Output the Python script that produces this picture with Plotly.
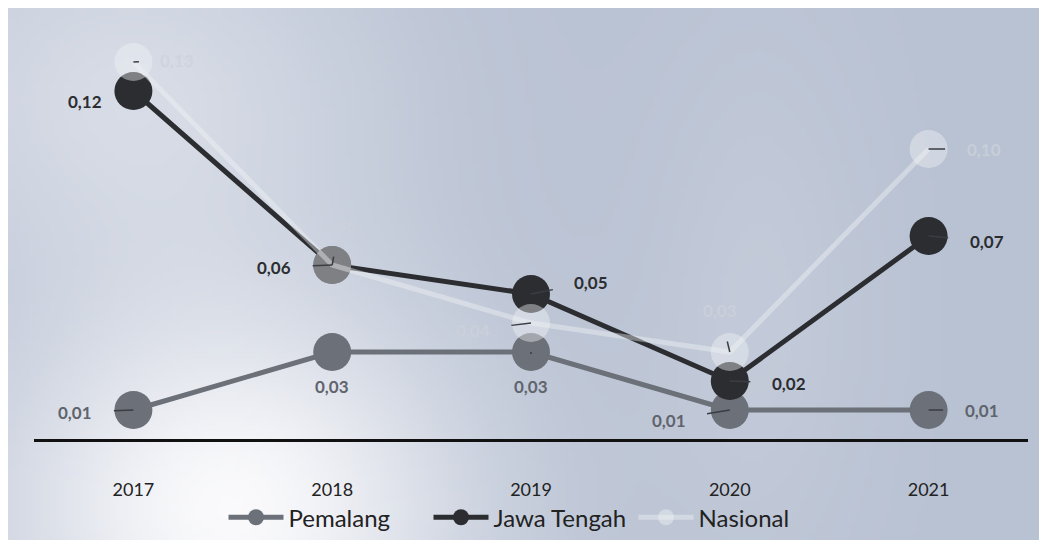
import base64
import struct
import zlib

import numpy as np
import plotly.graph_objects as go

# data
years = ["2017", "2018", "2019", "2020", "2021"]
pemalang = [0.01, 0.03, 0.03, 0.01, 0.01]
jawa_tengah = [0.12, 0.06, 0.05, 0.02, 0.07]
nasional = [0.13, 0.06, 0.04, 0.03, 0.10]

# the page body adds 8px around the figure
W, H = 1031, 532
ML, MR, MT, MB = 26, 11, 25, 101
PW, PH = W - ML - MR, H - MT - MB


def fmt(v):
    return f"{v:.2f}".replace(".", ",")


def png_uri(rgb):
    # tiny PNG encoder so the scan-like background can be an image
    h, w, _ = rgb.shape
    raw = b"".join(b"\x00" + rgb[i].tobytes() for i in range(h))

    def chunk(tag, data):
        c = struct.pack(">I", len(data)) + tag + data
        return c + struct.pack(">I", zlib.crc32(tag + data) & 0xffffffff)

    png = b"\x89PNG\r\n\x1a\n" + chunk(b"IHDR", struct.pack(">IIBBBBB", w, h, 8, 2, 0, 0, 0))
    png += chunk(b"IDAT", zlib.compress(raw, 9)) + chunk(b"IEND", b"")
    return "data:image/png;base64," + base64.b64encode(png).decode()


# bluish background with a white glow at lower left
gw, gh = 210, 110
yy, xx = np.mgrid[0:gh, 0:gw]
px, py = xx * W / gw, yy * H / gh
glow = np.exp(-(((px - 220) / 260) ** 2 + ((py - 500) / 230) ** 2) * 1.2)
glow2 = 0.45 * np.exp(-(((px - 120) / 260) ** 2 + ((py - 80) / 200) ** 2))
glow3 = 0.15 * np.exp(-(((px - 750) / 120) ** 2 + ((py - 300) / 300) ** 2))
mix = np.clip(glow + glow2 + glow3, 0, 1)[..., None]
base = np.array([185, 194, 211], dtype=float)
white = np.array([250, 250, 252], dtype=float)
bg = (base * (1 - mix) + white * mix).astype(np.uint8)

fig = go.Figure()

series = [
    ("Pemalang", pemalang, "#6b7079", "#5f646d"),
    ("Jawa Tengah", jawa_tengah, "#2b2d31", "#2b2d31"),
    ("Nasional", nasional, "rgba(240,242,246,0.42)", "rgba(205,210,218,0.75)"),
]
for name, vals, col, _ in series:
    fig.add_trace(go.Scatter(
        x=years, y=vals, name=name, mode="lines+markers",
        line=dict(color=col, width=5),
        marker=dict(color=col, size=38),
        hoverinfo="skip",
    ))

# label offsets (px) and whether a leader line is drawn
offsets = {
    "Pemalang": [(-58, 2, True), (0, 34, False), (0, 34, True), (-61, 10, True), (53, 0, True)],
    "Jawa Tengah": [(-48, 10, False), (-58, 2, True), (60, -12, True), (59, 2, True), (58, 5, True)],
    "Nasional": [(44, -2, True), (7, -40, True), (-58, 7, True), (-10, -42, True), (55, 0, True)],
}

for name, vals, _, tcol in series:
    for i, v in enumerate(vals):
        ax, ay, arrow = offsets[name][i]
        fig.add_annotation(
            x=i, y=v, text=f"<b>{fmt(v)}</b>",
            showarrow=True, arrowhead=0, arrowwidth=1.5,
            arrowcolor="#3a3d42" if arrow else "rgba(0,0,0,0)",
            ax=ax, ay=ay, standoff=0, startstandoff=20,
            font=dict(size=17, color=tcol),
        )

fig.add_layout_image(dict(
    source=png_uri(bg), xref="paper", yref="paper",
    x=-ML / PW, y=1 + MT / PH, sizex=W / PW, sizey=H / PH,
    xanchor="left", yanchor="top", sizing="stretch", layer="below",
))

fig.update_layout(
    width=W, height=H,
    margin=dict(l=ML, r=MR, t=MT, b=MB),
    paper_bgcolor="#b9c2d3", plot_bgcolor="rgba(0,0,0,0)",
    font=dict(family="Lato, Open Sans, sans-serif", color="#222"),
    showlegend=True,
    legend=dict(
        orientation="h", x=0.5, xanchor="center",
        yref="container", y=0.042, yanchor="middle",
        font=dict(size=24, color="#222"), bgcolor="rgba(0,0,0,0)",
        itemwidth=55, entrywidth=135,
    ),
    xaxis=dict(
        type="category", range=[-0.5, 4.5], showgrid=False,
        showline=True, linecolor="#111", linewidth=3,
        ticks="", tickfont=dict(size=18, color="#222"),
        ticklabelstandoff=32, automargin=False, fixedrange=True,
    ),
    yaxis=dict(
        range=[0, 0.14], visible=False, showgrid=False, zeroline=False,
        fixedrange=True,
    ),
)

fig.write_html("out.html")
